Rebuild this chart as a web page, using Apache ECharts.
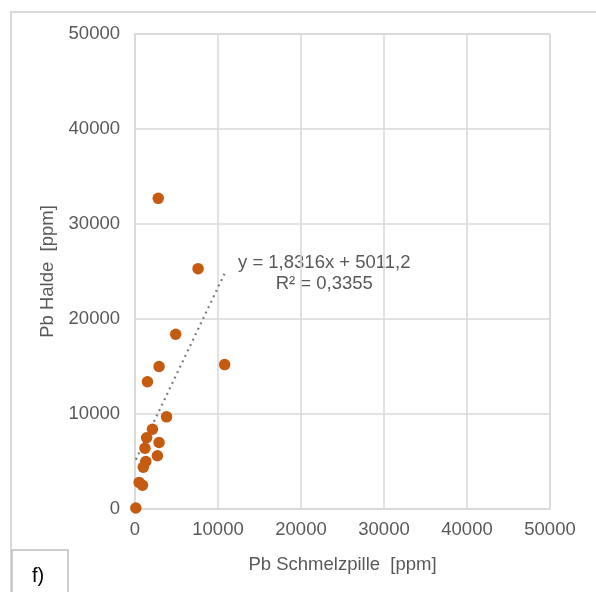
<!DOCTYPE html>
<html><head><meta charset="utf-8">
<script src="https://cdn.jsdelivr.net/npm/echarts@6/dist/echarts.min.js"></script>
<style>html,body{margin:0;padding:0;background:#fff}#c{width:596px;height:592px}</style>
</head><body><div id="c"></div>
<script>
// Data
const pbSchmelzpille = [2800, 7600, 4900, 2900, 10800, 1500, 3800, 2100, 1400, 2900, 1200, 2700, 1300, 1000, 500, 900, 100];
const pbHalde       = [32700, 25300, 18400, 15000, 15200, 13400, 9700, 8400, 7500, 7000, 6400, 5600, 5000, 4400, 2800, 2500, 100];
const trendSlope = 1.8316;
const trendIntercept = 5011.2;
const trendLabel = ['y = 1,8316x + 5011,2', 'R² = 0,3355'];
const axisTicks = [0, 10000, 20000, 30000, 40000, 50000];
const xTitle = 'Pb Schmelzpille  [ppm]';
const yTitle = 'Pb Halde  [ppm]';
const panelLabel = 'f)';

const points = pbSchmelzpille.map((x, i) => [x, pbHalde[i]]);
const xMin = Math.min(...pbSchmelzpille), xMax = Math.max(...pbSchmelzpille);
const trend = [[xMin, trendSlope * xMin + trendIntercept], [xMax, trendSlope * xMax + trendIntercept]];

const font = 'Liberation Sans, Arial, sans-serif';
const chart = echarts.init(document.getElementById('c'), null, {renderer: 'canvas'});
const axisCommon = {
  type: 'value', min: axisTicks[0], max: axisTicks[axisTicks.length - 1], interval: 10000,
  axisLine: {show: true, lineStyle: {color: '#d9d9d9', width: 1.5}},
  axisTick: {show: false},
  splitLine: {show: true, lineStyle: {color: '#d9d9d9', width: 1.5}},
  axisLabel: {color: '#595959', fontSize: 18.5, fontFamily: font, formatter: v => String(v)},
  nameTextStyle: {color: '#595959', fontSize: 18.5, fontFamily: font},
  nameLocation: 'middle'
};
chart.setOption({
  animation: false,
  backgroundColor: '#fff',
  grid: {left: 135, right: 46, top: 34, bottom: 83, show: true, borderColor: '#d9d9d9', borderWidth: 1.5},
  xAxis: Object.assign({}, axisCommon, {name: xTitle, nameGap: 46, axisLabel: Object.assign({}, axisCommon.axisLabel, {margin: 11})}),
  yAxis: Object.assign({}, axisCommon, {name: yTitle, nameGap: 69, axisLabel: Object.assign({}, axisCommon.axisLabel, {margin: 15})}),
  series: [
    {type: 'line', data: trend, symbol: 'none', silent: true,
     lineStyle: {color: '#808080', width: 2.2, type: [2, 4]}, z: 1},
    {type: 'scatter', data: points, symbolSize: 11.5,
     itemStyle: {color: '#c55a11', opacity: 1}, z: 2}
  ],
  graphic: [
    {type: 'rect', shape: {x: 11, y: 12, width: 620, height: 620}, style: {fill: null, stroke: '#d9d9d9', lineWidth: 2}, z: -10},
    {type: 'text', left: 238, top: 252, style: {text: trendLabel.join('\n'), fill: '#595959', font: '18.5px ' + font, textAlign: 'center', lineHeight: 21, x: 89}},
    {type: 'rect', shape: {x: 12, y: 550, width: 56, height: 60}, style: {fill: '#fff', stroke: '#bfbfbf', lineWidth: 1.5}},
    {type: 'text', x: 38, y: 576, style: {text: panelLabel, fill: '#000', font: '20px ' + font, textAlign: 'center', textVerticalAlign: 'middle'}}
  ]
});
</script></body></html>
